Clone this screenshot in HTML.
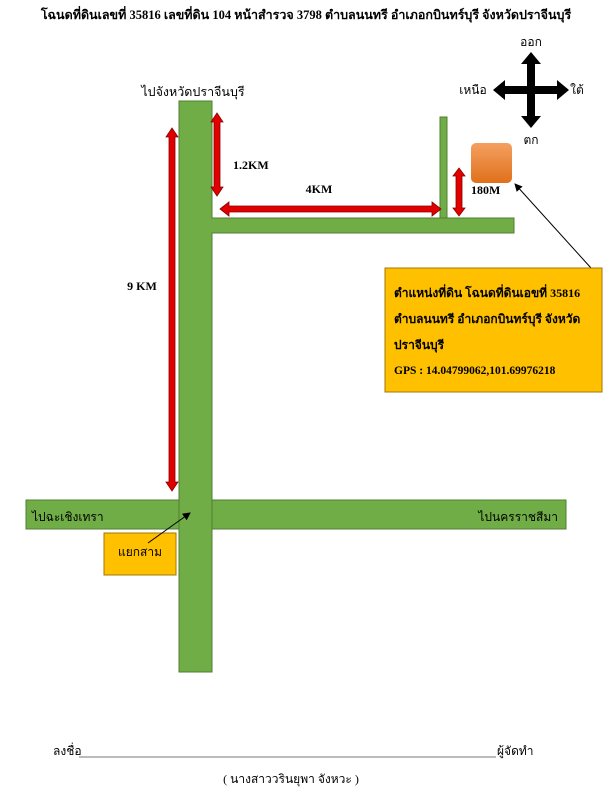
<!DOCTYPE html>
<html><head><meta charset="utf-8"><style>
html,body{margin:0;padding:0;background:#fff;}
svg{display:block;}
text{font-family:"Liberation Serif","Noto Serif CJK SC","Noto Sans CJK SC",serif;}
</style></head><body>
<svg width="612" height="800" viewBox="0 0 612 800" xmlns="http://www.w3.org/2000/svg">
<defs>
<marker id="ah" markerWidth="8" markerHeight="8" refX="7" refY="4" orient="auto"><path d="M0,0 L8,4 L0,8 z" fill="#000"/></marker>
<linearGradient id="og" x1="0" y1="0" x2="0" y2="1"><stop offset="0" stop-color="#f4a060"/><stop offset="1" stop-color="#e0701c"/></linearGradient>
</defs>
<text x="306" y="19" font-size="12.5" font-weight="bold" text-anchor="middle">โฉนดที่ดินเลขที่ 35816 เลขที่ดิน 104 หน้าสำรวจ 3798 ตำบลนนทรี อำเภอกบินทร์บุรี จังหวัดปราจีนบุรี</text>

<g fill="#000">
<polygon points="531,52 541,64 535,64 535,86 557,86 557,80 569,90 557,100 557,94 535,94 535,116 541,116 531,128 521,116 527,116 527,94 505,94 505,100 493,90 505,80 505,86 527,86 527,64 521,64"/>
</g>
<text x="531" y="46" font-size="12" text-anchor="middle">ออก</text>
<text x="473" y="94" font-size="12" text-anchor="middle">เหนือ</text>
<text x="577" y="94" font-size="12" text-anchor="middle">ใต้</text>
<text x="531" y="144" font-size="12" text-anchor="middle">ตก</text>

<text x="193" y="96" font-size="12.5" text-anchor="middle">ไปจังหวัดปราจีนบุรี</text>

<g fill="#70ad47" stroke="#507e32" stroke-width="1">
<rect x="26" y="500" width="540" height="29"/>
<rect x="179" y="101" width="33" height="571"/>
<rect x="212" y="218" width="302" height="15"/>
<rect x="440" y="117" width="7" height="101"/>
</g>
<rect x="179.5" y="500.5" width="32" height="28" fill="#70ad47"/>
<rect x="211" y="218.5" width="2" height="14" fill="#70ad47"/>

<g fill="#e00000" stroke="#8b0000" stroke-width="0.8">
<polygon points="172,128 178,137 175,137 175,482 178,482 172,491 166,482 169,482 169,137 166,137"/>
<polygon points="217,113 223,122 220,122 220,187 223,187 217,196 211,187 214,187 214,122 211,122"/>
<polygon points="220,209 229,202 229,206 432,206 432,202 441,209 432,216 432,212 229,212 229,216"/>
<polygon points="459,168 465,176 462,176 462,208 465,208 459,216 453,208 456,208 456,176 453,176"/>
</g>
<text x="233" y="169" font-size="12" font-weight="bold">1.2KM</text>
<text x="319" y="193" font-size="12" font-weight="bold" text-anchor="middle">4KM</text>
<text x="471" y="194" font-size="12" font-weight="bold">180M</text>
<text x="142" y="290" font-size="12" font-weight="bold" text-anchor="middle">9 KM</text>

<rect x="471" y="143" width="41" height="40" rx="5" fill="url(#og)"/>

<line x1="591" y1="268" x2="515" y2="184" stroke="#000" stroke-width="1" marker-end="url(#ah)"/>
<rect x="385" y="268" width="217" height="124" fill="#ffc000" stroke="#a07800" stroke-width="1"/>
<text x="394" y="297" font-size="12" font-weight="bold">ตำแหน่งที่ดิน โฉนดที่ดินเอขที่ 35816</text>
<text x="394" y="323" font-size="12" font-weight="bold">ตำบลนนทรี อำเภอกบินทร์บุรี จังหวัด</text>
<text x="394" y="349" font-size="12" font-weight="bold">ปราจีนบุรี</text>
<text x="394" y="374" font-size="11.5" font-weight="bold">GPS : 14.04799062,101.69976218</text>

<text x="32" y="521" font-size="12">ไปฉะเชิงเทรา</text>
<text x="558" y="521" font-size="12" text-anchor="end">ไปนครราชสีมา</text>

<rect x="104" y="533" width="72" height="42" fill="#ffc000" stroke="#a07800" stroke-width="1"/>
<text x="140" y="556" font-size="12" text-anchor="middle">แยกสาม</text>
<line x1="148" y1="543" x2="190" y2="513" stroke="#000" stroke-width="1" marker-end="url(#ah)"/>

<text x="53" y="755" font-size="12">ลงชื่อ</text>
<line x1="79" y1="757" x2="496" y2="757" stroke="#777" stroke-width="1"/>
<text x="497" y="755" font-size="12">ผู้จัดทำ</text>
<text x="291" y="783" font-size="12" text-anchor="middle">(  นางสาววรินยุพา จังหวะ  )</text>
</svg>
</body></html>
